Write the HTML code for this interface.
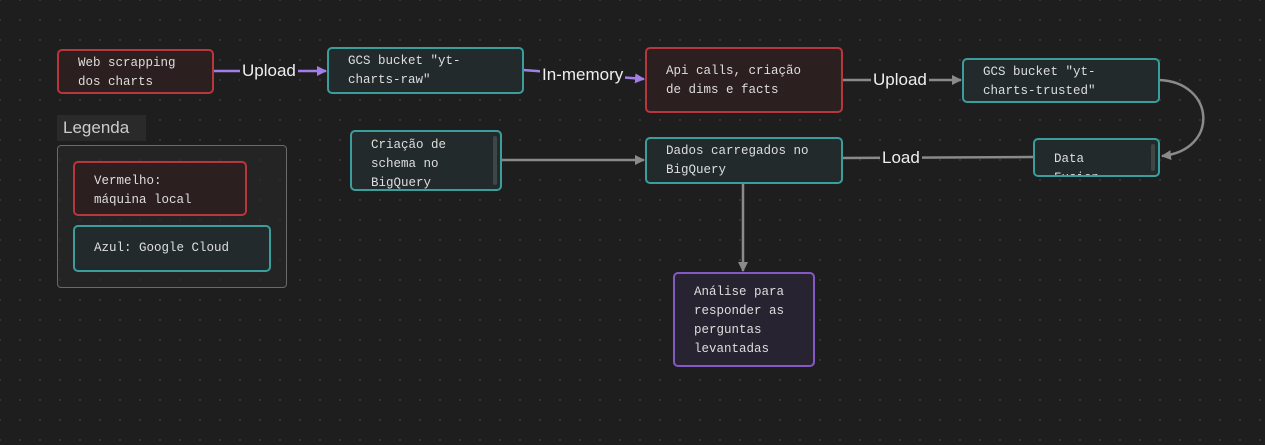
<!DOCTYPE html>
<html><head><meta charset="utf-8"><style>
body{margin:0;width:1265px;height:445px;overflow:hidden;background:#1e1e1e;
background-image:radial-gradient(circle,#3a3a3a 0.8px,transparent 1.1px);background-size:20px 20px;background-position:10px 10px;
font-family:"Liberation Mono",monospace;position:relative}
.n{position:absolute;box-sizing:border-box;border:2px solid;border-radius:5px;color:#dedede;font-size:12.5px;line-height:19px;overflow:hidden;padding:0 0 0 19px}
.r{border-color:#b8363d;background:#2c1f20}
.t{border-color:#3a9e9c;background:#222a2b}
.p{border-color:#8459c4;background:#272330}
.sb{position:absolute;right:3px;top:4px;width:4px;bottom:4px;background:#3e4646;border-radius:2px}
.lbl{position:absolute;font-family:"Liberation Sans",sans-serif;font-size:17px;color:#eee;background:#1e1e1e}
</style></head><body>
<svg width="1265" height="445" style="position:absolute;left:0;top:0">
<defs>
<marker id="pa" markerWidth="10" markerHeight="10" refX="9" refY="5" orient="auto" markerUnits="userSpaceOnUse"><path d="M0,0 L10,5 L0,10z" fill="#a47ee8"/></marker>
<marker id="ga" markerWidth="10" markerHeight="10" refX="9" refY="5" orient="auto" markerUnits="userSpaceOnUse"><path d="M0,0 L10,5 L0,10z" fill="#8a8a8a"/></marker>
</defs>
<g stroke-width="2.5" fill="none">
<line x1="213" y1="71" x2="326" y2="71" stroke="#a47ee8" marker-end="url(#pa)"/>
<line x1="523" y1="70" x2="644" y2="79" stroke="#a47ee8" marker-end="url(#pa)"/>
<line x1="842" y1="80" x2="961" y2="80" stroke="#8a8a8a" marker-end="url(#ga)"/>
<path d="M1159,80 C1215,82 1220,150 1162,156" stroke="#8a8a8a" marker-end="url(#ga)"/>
<line x1="1033" y1="157" x2="842" y2="158" stroke="#8a8a8a"/>
<line x1="501" y1="160" x2="644" y2="160" stroke="#8a8a8a" marker-end="url(#ga)"/>
<line x1="743" y1="183" x2="743" y2="271" stroke="#8a8a8a" marker-end="url(#ga)"/>
</g></svg>
<div class="lbl" style="left:240px;top:61px;padding:0 2px">Upload</div>
<div class="lbl" style="left:540px;top:65px;padding:0 2px">In-memory</div>
<div class="lbl" style="left:871px;top:70px;padding:0 2px">Upload</div>
<div class="lbl" style="left:880px;top:148px;padding:0 2px">Load</div>

<div class="n r" style="left:57px;top:49px;width:157px;height:45px;padding-top:3px">Web scrapping<br>dos charts</div>
<div class="n t" style="left:327px;top:47px;width:197px;height:47px;padding-top:3px">GCS bucket "yt-<br>charts-raw"</div>
<div class="n r" style="left:645px;top:47px;width:198px;height:66px;padding-top:13px">Api calls, criação<br>de dims e facts</div>
<div class="n t" style="left:962px;top:58px;width:198px;height:45px;padding-top:3px">GCS bucket "yt-<br>charts-trusted"</div>
<div class="n t" style="left:350px;top:130px;width:152px;height:61px;padding-top:4px">Criação de<br>schema no<br>BigQuery<div class="sb"></div></div>
<div class="n t" style="left:645px;top:137px;width:198px;height:47px;padding-top:3px">Dados carregados no<br>BigQuery</div>
<div class="n t" style="left:1033px;top:138px;width:127px;height:39px;padding-top:10px">Data<br>Fusion<div class="sb"></div></div>
<div class="n p" style="left:673px;top:272px;width:142px;height:95px;padding-top:9px">Análise para<br>responder as<br>perguntas<br>levantadas</div>

<div style="position:absolute;left:57px;top:115px;width:89px;height:26px;background:#2a2a2a;color:#ccc;font-family:'Liberation Sans',sans-serif;font-size:17px;line-height:26px;padding-left:6px;box-sizing:border-box">Legenda</div>
<div style="position:absolute;left:57px;top:145px;width:230px;height:143px;box-sizing:border-box;border:1.5px solid #6a6a6a;border-radius:4px;background:rgba(40,40,40,0.6)"></div>
<div class="n r" style="left:73px;top:161px;width:174px;height:55px;padding-top:9px">Vermelho:<br>máquina local</div>
<div class="n t" style="left:73px;top:225px;width:198px;height:47px;padding-top:12px">Azul: Google Cloud</div>
</body></html>
